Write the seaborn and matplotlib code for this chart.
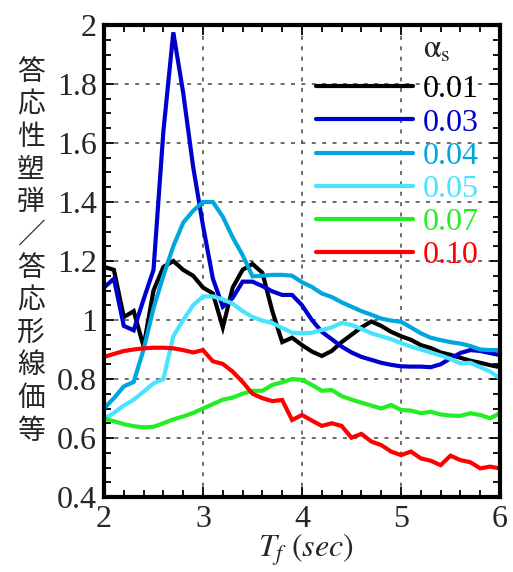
import numpy as np
import pandas as pd
import matplotlib
matplotlib.use("Agg")
import matplotlib.pyplot as plt
from matplotlib.ticker import MultipleLocator, FuncFormatter
import seaborn as sns

# Period axis (sec)
T = [2.0, 2.1, 2.2, 2.3, 2.4, 2.5, 2.6, 2.7, 2.8, 2.9,
     3.0, 3.1, 3.2, 3.3, 3.4, 3.5, 3.6, 3.7, 3.8, 3.9,
     4.0, 4.1, 4.2, 4.3, 4.4, 4.5, 4.6, 4.7, 4.8, 4.9,
     5.0, 5.1, 5.2, 5.3, 5.4, 5.5, 5.6, 5.7, 5.8, 5.9, 6.0]

# Response ratio for each alpha_s
a001 = [1.18, 1.17, 1.01, 1.03, 0.91, 1.10, 1.18, 1.20, 1.17, 1.15,
        1.11, 1.09, 0.975, 1.11, 1.17, 1.19, 1.16, 1.03, 0.925, 0.94,
        0.915, 0.893, 0.878, 0.895, 0.925, 0.95, 0.975, 0.995, 0.98, 0.96,
        0.945, 0.933, 0.915, 0.905, 0.89, 0.882, 0.872, 0.862, 0.855, 0.847, 0.84]
a003 = [1.11, 1.14, 0.98, 0.965, 1.07, 1.17, 1.64, 1.975, 1.77, 1.52,
        1.32, 1.14, 1.045, 1.075, 1.13, 1.13, 1.115, 1.097, 1.085, 1.085,
        1.05, 1.0, 0.96, 0.935, 0.91, 0.89, 0.875, 0.865, 0.855, 0.848,
        0.843, 0.842, 0.842, 0.84, 0.85, 0.87, 0.888, 0.898, 0.895, 0.888, 0.881]
a004 = [0.70, 0.735, 0.775, 0.79, 0.90, 1.04, 1.15, 1.25, 1.33, 1.37,
        1.40, 1.40, 1.35, 1.28, 1.22, 1.148, 1.15, 1.153, 1.153, 1.15,
        1.128, 1.112, 1.09, 1.078, 1.06, 1.045, 1.03, 1.018, 1.005, 0.998,
        0.994, 0.975, 0.955, 0.94, 0.932, 0.925, 0.92, 0.912, 0.90, 0.898, 0.898]
a005 = [0.665, 0.685, 0.71, 0.73, 0.757, 0.785, 0.80, 0.945, 1.00, 1.05,
        1.08, 1.08, 1.07, 1.055, 1.03, 1.01, 0.998, 0.99, 0.973, 0.957,
        0.955, 0.957, 0.966, 0.975, 0.99, 0.983, 0.97, 0.955, 0.945, 0.935,
        0.922, 0.91, 0.90, 0.89, 0.88, 0.868, 0.853, 0.855, 0.84, 0.825, 0.802]
a007 = [0.665, 0.657, 0.647, 0.64, 0.636, 0.638, 0.65, 0.663, 0.673, 0.685,
        0.70, 0.715, 0.73, 0.737, 0.75, 0.76, 0.76, 0.78, 0.789, 0.80,
        0.797, 0.78, 0.76, 0.763, 0.742, 0.73, 0.72, 0.71, 0.70, 0.712,
        0.695, 0.693, 0.684, 0.689, 0.68, 0.676, 0.675, 0.684, 0.678, 0.667, 0.684]
a010 = [0.875, 0.885, 0.895, 0.90, 0.904, 0.906, 0.906, 0.904, 0.898, 0.89,
        0.898, 0.86, 0.851, 0.825, 0.79, 0.75, 0.735, 0.725, 0.729, 0.661,
        0.678, 0.659, 0.641, 0.65, 0.641, 0.601, 0.614, 0.588, 0.576, 0.554,
        0.542, 0.554, 0.531, 0.523, 0.508, 0.54, 0.525, 0.518, 0.497, 0.503, 0.497]

labels = ["0.01", "0.03", "0.04", "0.05", "0.07", "0.10"]
series = [a001, a003, a004, a005, a007, a010]
colors = ["#000000", "#0000CC", "#00A6DE", "#48E4FF", "#22EE22", "#FF0000"]

y_ticks = [0.4, 0.6, 0.8, 1.0, 1.2, 1.4, 1.6, 1.8, 2.0]
x_ticks = [2, 3, 4, 5, 6]
ylabel_text = "等価線形応答／弾塑性応答"

df = pd.DataFrame({
    "T": np.tile(T, len(labels)),
    "ratio": np.concatenate(series),
    "alpha": np.repeat(labels, len(T)),
})

sns.set_style("ticks")
plt.rcParams["font.family"] = "serif"
plt.rcParams["font.serif"] = ["Liberation Serif", "DejaVu Serif"]
plt.rcParams["mathtext.fontset"] = "stix"

SERIF = "Liberation Serif"

fig = plt.figure(figsize=(5.13, 5.72), dpi=100)
ax = fig.add_axes([104 / 513, 1 - 497 / 572, 396 / 513, 472 / 572])

sns.lineplot(data=df, x="T", y="ratio", hue="alpha", hue_order=labels,
             palette=dict(zip(labels, colors)), linewidth=3.0, ax=ax,
             legend=False, sort=False)

for line, lab in zip(ax.lines, labels):
    line.set_label(lab)
    line.set_solid_joinstyle("miter")

ax.set_xlim(2, 6)
ax.set_ylim(0.4, 2.0)
ax.set_xticks(x_ticks)
ax.set_yticks(y_ticks)
ax.xaxis.set_minor_locator(MultipleLocator(0.2))
ax.yaxis.set_minor_locator(MultipleLocator(0.05))
ax.yaxis.set_major_formatter(FuncFormatter(lambda v, p: f"{v:g}"))
ax.xaxis.set_major_formatter(FuncFormatter(lambda v, p: f"{v:g}"))

ax.tick_params(which="both", direction="in", top=True, right=True,
               labelsize=23, width=1.3, color="black")
ax.tick_params(which="major", length=7)
ax.tick_params(which="minor", length=5)
ax.tick_params(axis="y", pad=5)
ax.tick_params(axis="x", pad=6)
for lbl in ax.get_xticklabels() + ax.get_yticklabels():
    lbl.set_fontfamily(SERIF)

for sp in ax.spines.values():
    sp.set_linewidth(3)
    sp.set_color("black")

ax.grid(True, which="major", color="#444444", linestyle=(0, (2.6, 4.2)), linewidth=1.1)
ax.set_xlabel("")
ax.set_ylabel("")

# x-axis label
fig.text(306 / 513, 1 - 550 / 572, r"$T_f\ (sec)$", ha="center", va="center",
         fontsize=23)

# vertical stacked Japanese y-axis label (reads bottom to top)
chars = list(ylabel_text)[::-1]
for i, ch in enumerate(chars):
    fig.text(31 / 513, 1 - (72 + i * 32.6) / 572, ch, ha="center", va="center",
             fontsize=20, family=["Noto Sans CJK JP", "DejaVu Sans"])

leg = ax.legend(loc="upper left", bbox_to_anchor=((316 - 104) / 396, (497 - 75) / 472),
                frameon=False, handlelength=3.05, handletextpad=0.3,
                labelspacing=0.12, borderpad=0, borderaxespad=0,
                labelcolor="linecolor", prop={"family": SERIF, "size": 23})
for h in leg.legend_handles:
    h.set_linewidth(3.0)

fig.text(423 / 513, 1 - 58 / 572, r"$\mathrm{\alpha}_{\mathrm{s}}$", ha="left",
         va="baseline", fontsize=23)

fig.savefig("out.png", dpi=100)
